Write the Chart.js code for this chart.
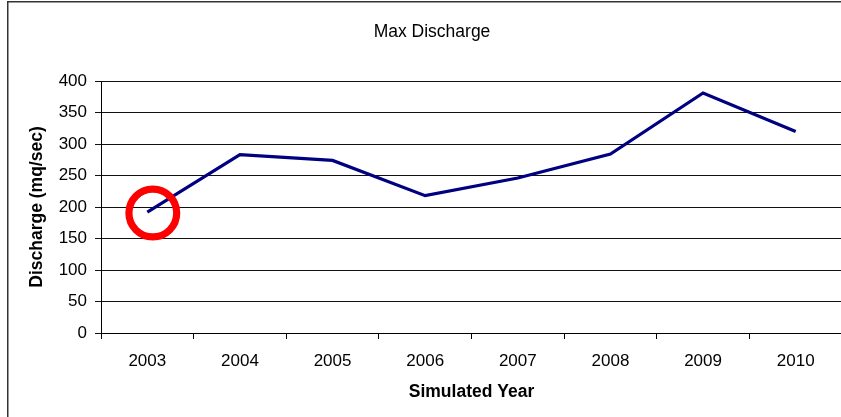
<!DOCTYPE html>
<html>
<head>
<meta charset="utf-8">
<script src="https://cdn.jsdelivr.net/npm/chart.js@4"></script>
<style>
  html, body { margin: 0; padding: 0; background: #fff; overflow: hidden; }
  #wrap { position: relative; width: 842px; height: 417px; }
</style>
</head>
<body>
<div id="wrap"><canvas id="chart"></canvas></div>
<script>
// Yearly maximum discharge from the simulation runs
const years = ['2003', '2004', '2005', '2006', '2007', '2008', '2009', '2010'];
const maxDischarge = [192, 283, 274, 218, 246, 284, 381, 320];
const yMin = 0;
const yMax = 400;
const yStep = 50;
const chartTitle = 'Max Discharge';
const xTitle = 'Simulated Year';
const yTitle = 'Discharge (mq/sec)';
const highlightYear = '2003';

const FONT = "'Liberation Sans', Arial, sans-serif";
Chart.defaults.font.family = FONT;
Chart.defaults.color = '#000';

// White background and the outer chart frame
const framePlugin = {
  id: 'frame',
  beforeDraw(chart) {
    const ctx = chart.ctx;
    ctx.save();
    ctx.fillStyle = '#fff';
    ctx.fillRect(0, 0, chart.width, chart.height);
    ctx.strokeStyle = '#333';
    ctx.lineWidth = 1.5;
    ctx.strokeRect(7.75, 1.75, chart.width + 20, chart.height + 20);
    ctx.restore();
  }
};

// Chart heading
const headingPlugin = {
  id: 'heading',
  afterDraw(chart) {
    const ctx = chart.ctx;
    ctx.save();
    ctx.font = '17.5px ' + FONT;
    ctx.fillStyle = '#000';
    ctx.textAlign = 'center';
    ctx.textBaseline = 'middle';
    ctx.fillText(chartTitle, 432, 31.7);
    ctx.restore();
  }
};

// Red ring marking the highlighted year
const highlightPlugin = {
  id: 'highlight',
  afterDatasetsDraw(chart) {
    const idx = years.indexOf(highlightYear);
    if (idx < 0) return;
    const x = chart.scales.x.getPixelForValue(idx) + 5.5;
    const y = chart.scales.y.getPixelForValue(maxDischarge[idx]) + 1;
    const ctx = chart.ctx;
    ctx.save();
    ctx.strokeStyle = '#ff0000';
    ctx.lineWidth = 7.2;
    ctx.beginPath();
    ctx.arc(x, y, 23.9, 0, Math.PI * 2);
    ctx.stroke();
    ctx.restore();
  }
};

new Chart(document.getElementById('chart'), {
  type: 'line',
  data: {
    labels: years,
    datasets: [{
      label: chartTitle,
      data: maxDischarge,
      borderColor: '#000080',
      borderWidth: 3.2,
      pointRadius: 0,
      pointHoverRadius: 0,
      tension: 0,
      fill: false
    }]
  },
  options: {
    responsive: true,
    maintainAspectRatio: false,
    animation: false,
    events: [],
    layout: { padding: { top: 81, left: 0, right: 0, bottom: 0 } },
    plugins: {
      legend: { display: false },
      title: { display: false },
      tooltip: { enabled: false }
    },
    scales: {
      x: {
        type: 'category',
        offset: true,
        grid: {
          offset: true,
          drawOnChartArea: false,
          drawTicks: true,
          tickLength: 6,
          color: '#000',
          lineWidth: 1
        },
        border: { display: true, color: '#000', width: 1 },
        ticks: { font: { size: 17 }, color: '#000', padding: 12, maxRotation: 0, autoSkip: false },
        title: {
          display: true,
          text: xTitle,
          font: { size: 17.5, weight: 'bold' },
          color: '#000',
          padding: { top: 0, bottom: 14.8 }
        },
        afterFit(scale) { scale.height = 84; }
      },
      y: {
        min: yMin,
        max: yMax,
        grid: { color: '#111', lineWidth: 1, tickLength: 6, drawTicks: true },
        border: { display: true, color: '#000', width: 1 },
        ticks: { stepSize: yStep, font: { size: 17 }, color: '#000', padding: 8 },
        title: {
          display: true,
          text: yTitle,
          font: { size: 17.5, weight: 'bold' },
          color: '#000',
          padding: { top: 26.5, bottom: 0 }
        },
        afterFit(scale) { scale.width = 101; }
      }
    }
  },
  plugins: [framePlugin, headingPlugin, highlightPlugin]
});
</script>
</body>
</html>
